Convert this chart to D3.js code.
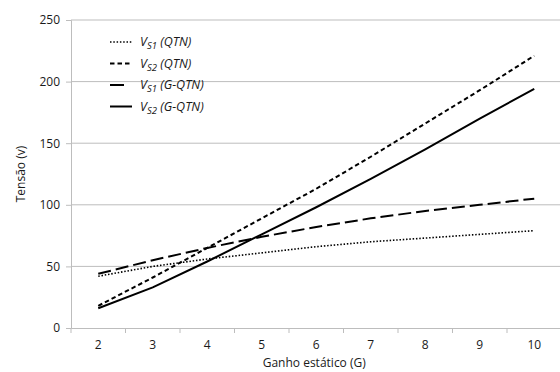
<!DOCTYPE html>
<html>
<head>
<meta charset="utf-8">
<script src="https://cdn.jsdelivr.net/npm/d3@7/dist/d3.min.js"></script>
<style>
html,body{margin:0;padding:0;background:#fff;}
svg{display:block;}
text{font-family:"Open Sans",Lato,sans-serif;fill:#1a1a1a;}
</style>
</head>
<body>
<svg id="chart" width="560" height="372"></svg>
<script>
const categories = [2, 3, 4, 5, 6, 7, 8, 9, 10];
const vs1QTN  = [42, 50, 56, 61, 66, 70, 73, 76, 79];
const vs2QTN  = [18, 41, 65, 89, 113, 139, 166, 193, 221];
const vs1GQTN = [44, 55, 65, 74, 82, 89, 95, 100, 105];
const vs2GQTN = [16, 33, 54, 76, 98, 121, 145, 170, 194];
const yTicks = [0, 50, 100, 150, 200, 250];

const seriesLabels = [
  {sub: "S1", tail: " (QTN)", values: vs1QTN, dash: "1.5,1.8", width: 1.6},
  {sub: "S2", tail: " (QTN)", values: vs2QTN, dash: "4.5,3", width: 2},
  {sub: "S1", tail: " (G-QTN)", values: vs1GQTN, dash: "13,5", width: 2},
  {sub: "S2", tail: " (G-QTN)", values: vs2GQTN, dash: null, width: 2}
];

const svg = d3.select("#chart");
const mLeft = 71, mTop = 20, mBottom = 328, bandW = 54.5;
const mRight = mLeft + bandW * categories.length;
const FONT = "'Open Sans', Lato, sans-serif";

const x = d3.scaleBand().domain(categories).range([mLeft, mRight]).paddingInner(0).paddingOuter(0);
const y = d3.scaleLinear().domain([0, 250]).range([mBottom, mTop]);

// gridlines
svg.append("g").selectAll("line").data(yTicks.filter(d => d > 0)).join("line")
  .attr("x1", mLeft).attr("x2", mRight)
  .attr("y1", d => y(d)).attr("y2", d => y(d))
  .attr("stroke", "#bdbdbd").attr("stroke-width", 1);

// y axis
const yAxis = svg.append("g").attr("transform", `translate(${mLeft},0)`)
  .call(d3.axisLeft(y).tickValues(yTicks).tickSize(5).tickPadding(6));
yAxis.select(".domain").attr("stroke", "#bdbdbd");
yAxis.selectAll(".tick line").attr("stroke", "#bdbdbd");
yAxis.selectAll(".tick text").style("font-size", "12px").style("font-family", FONT).attr("fill", "#1a1a1a");

// x axis
const xAxis = svg.append("g").attr("transform", `translate(0,${mBottom})`)
  .call(d3.axisBottom(x).tickSize(0).tickPadding(12));
xAxis.select(".domain").attr("stroke", "#bdbdbd");
xAxis.selectAll(".tick text").style("font-size", "12px").style("font-family", FONT).attr("fill", "#1a1a1a");
// category boundary tick marks
svg.append("g").selectAll("line").data(categories.concat(["end"])).join("line")
  .attr("x1", (d, i) => mLeft + i * x.bandwidth()).attr("x2", (d, i) => mLeft + i * x.bandwidth())
  .attr("y1", mBottom).attr("y2", mBottom + 5)
  .attr("stroke", "#bdbdbd");

// axis titles
svg.append("text").attr("transform", `translate(25,${(mTop + mBottom) / 2}) rotate(-90)`)
  .attr("text-anchor", "middle").style("font-size", "12px").text("Tensão (v)");
svg.append("text").attr("x", (mLeft + mRight) / 2 - 2).attr("y", 367)
  .attr("text-anchor", "middle").style("font-size", "12px").text("Ganho estático (G)");

// lines
const line = d3.line().x((d, i) => x(categories[i]) + x.bandwidth() / 2).y(d => y(d));
svg.append("g").selectAll("path").data(seriesLabels).join("path")
  .attr("d", s => line(s.values))
  .attr("fill", "none").attr("stroke", "#000")
  .attr("stroke-width", s => s.width)
  .attr("stroke-dasharray", s => s.dash);

// legend
const lg = svg.append("g");
seriesLabels.forEach((s, i) => {
  const yy = 42 + i * 21.5;
  lg.append("line").attr("x1", 110).attr("x2", s.dash === "13,5" ? 124 : 132)
    .attr("y1", yy).attr("y2", yy)
    .attr("stroke", "#000").attr("stroke-width", s.width)
    .attr("stroke-dasharray", s.dash === "13,5" ? null : s.dash);
  const t = lg.append("text").attr("x", 140).attr("y", yy + 4)
    .style("font-size", "12.5px").style("font-style", "italic");
  t.append("tspan").text("V");
  t.append("tspan").attr("dy", 3).style("font-size", "9.5px").text(s.sub);
  t.append("tspan").attr("dy", -3).text(s.tail);
});
</script>
</body>
</html>
